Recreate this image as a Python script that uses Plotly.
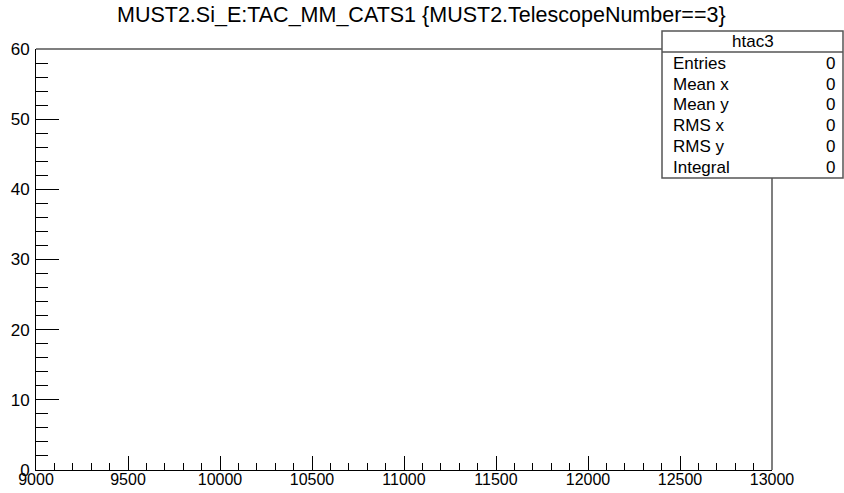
import plotly.graph_objects as go

# ---- data (empty histogram) ----
x_values = []
y_values = []
title_text = "MUST2.Si_E:TAC_MM_CATS1 {MUST2.TelescopeNumber==3}"
hist_name = "htac3"
stat_names = ["Entries", "Mean x", "Mean y", "RMS x", "RMS y", "Integral"]
stat_values = ["0", "0", "0", "0", "0", "0"]
x_range = [9000, 13000]
y_range = [0, 60]

W, H = 844, 493
L, R, T, B = 36, 772, 49, 470  # frame in pixels

def px(x):
    return (x - L) / (R - L)

def py(y):
    return (B - y) / (B - T)

FONT = "Liberation Sans, Arial, Helvetica, sans-serif"

fig = go.Figure()
fig.add_trace(go.Scatter(x=x_values, y=y_values, mode="markers",
                         marker=dict(color="black"), showlegend=False))

fig.update_layout(
    width=W, height=H,
    margin=dict(l=L, r=W - R, t=T, b=H - B, pad=0, autoexpand=False),
    paper_bgcolor="white", plot_bgcolor="white",
    font=dict(family=FONT, size=16, color="black"),
    showlegend=False,
    xaxis=dict(range=x_range, tickmode="linear", tick0=9000, dtick=500, tickformat="d",
               ticks="inside", ticklen=14, tickwidth=1, tickcolor="black",
               minor=dict(ticks="inside", dtick=100, ticklen=7, tickcolor="black", tickwidth=1),
               showgrid=False, zeroline=False, showline=True, linecolor="black", linewidth=1,
               tickfont=dict(size=16, family=FONT, color="black"), ticklabelstandoff=-5,
               automargin=False, fixedrange=True),
    yaxis=dict(range=y_range, tickmode="linear", tick0=0, dtick=10, tickformat="d",
               ticks="inside", ticklen=23, tickwidth=1, tickcolor="black",
               minor=dict(ticks="inside", dtick=2, ticklen=12, tickcolor="black", tickwidth=1),
               showgrid=False, zeroline=False, showline=True, linecolor="black", linewidth=1,
               tickfont=dict(size=17, family=FONT, color="black"), ticklabelstandoff=2,
               automargin=False, fixedrange=True),
)

shapes = []
# frame top/right
shapes.append(dict(type="line", xref="paper", yref="paper", x0=0, x1=1, y0=1, y1=1,
                   line=dict(color="#555555", width=1.5)))
shapes.append(dict(type="line", xref="paper", yref="paper", x0=1, x1=1, y0=0, y1=1,
                   line=dict(color="#555555", width=1.5)))
# stats box
bx0, bx1, by0, by1 = 662, 843, 31, 178
shapes.append(dict(type="rect", xref="paper", yref="paper",
                   x0=px(bx0), x1=px(bx1), y0=py(by1), y1=py(by0),
                   fillcolor="white", line=dict(color="#555555", width=1.5), layer="above"))
shapes.append(dict(type="line", xref="paper", yref="paper",
                   x0=px(bx0), x1=px(bx1), y0=py(52), y1=py(52),
                   line=dict(color="#555555", width=1.5), layer="above"))
fig.update_layout(shapes=shapes)

ann = []
ann.append(dict(text=title_text, xref="paper", yref="paper", x=px(421), y=py(15),
                xanchor="center", yanchor="middle", showarrow=False,
                font=dict(size=21.5, family=FONT, color="black")))
ann.append(dict(text=hist_name, xref="paper", yref="paper", x=px(753), y=py(42),
                xanchor="center", yanchor="middle", showarrow=False,
                font=dict(size=17, family=FONT, color="black")))
for i, (n, v) in enumerate(zip(stat_names, stat_values)):
    yy = 63.5 + i * 20.7
    ann.append(dict(text=n, xref="paper", yref="paper", x=px(671), y=py(yy),
                    xanchor="left", yanchor="middle", showarrow=False,
                    font=dict(size=17, family=FONT, color="black")))
    ann.append(dict(text=v, xref="paper", yref="paper", x=px(837), y=py(yy),
                    xanchor="right", yanchor="middle", showarrow=False,
                    font=dict(size=17, family=FONT, color="black")))
fig.update_layout(annotations=ann)

fig.write_html("out.html")
